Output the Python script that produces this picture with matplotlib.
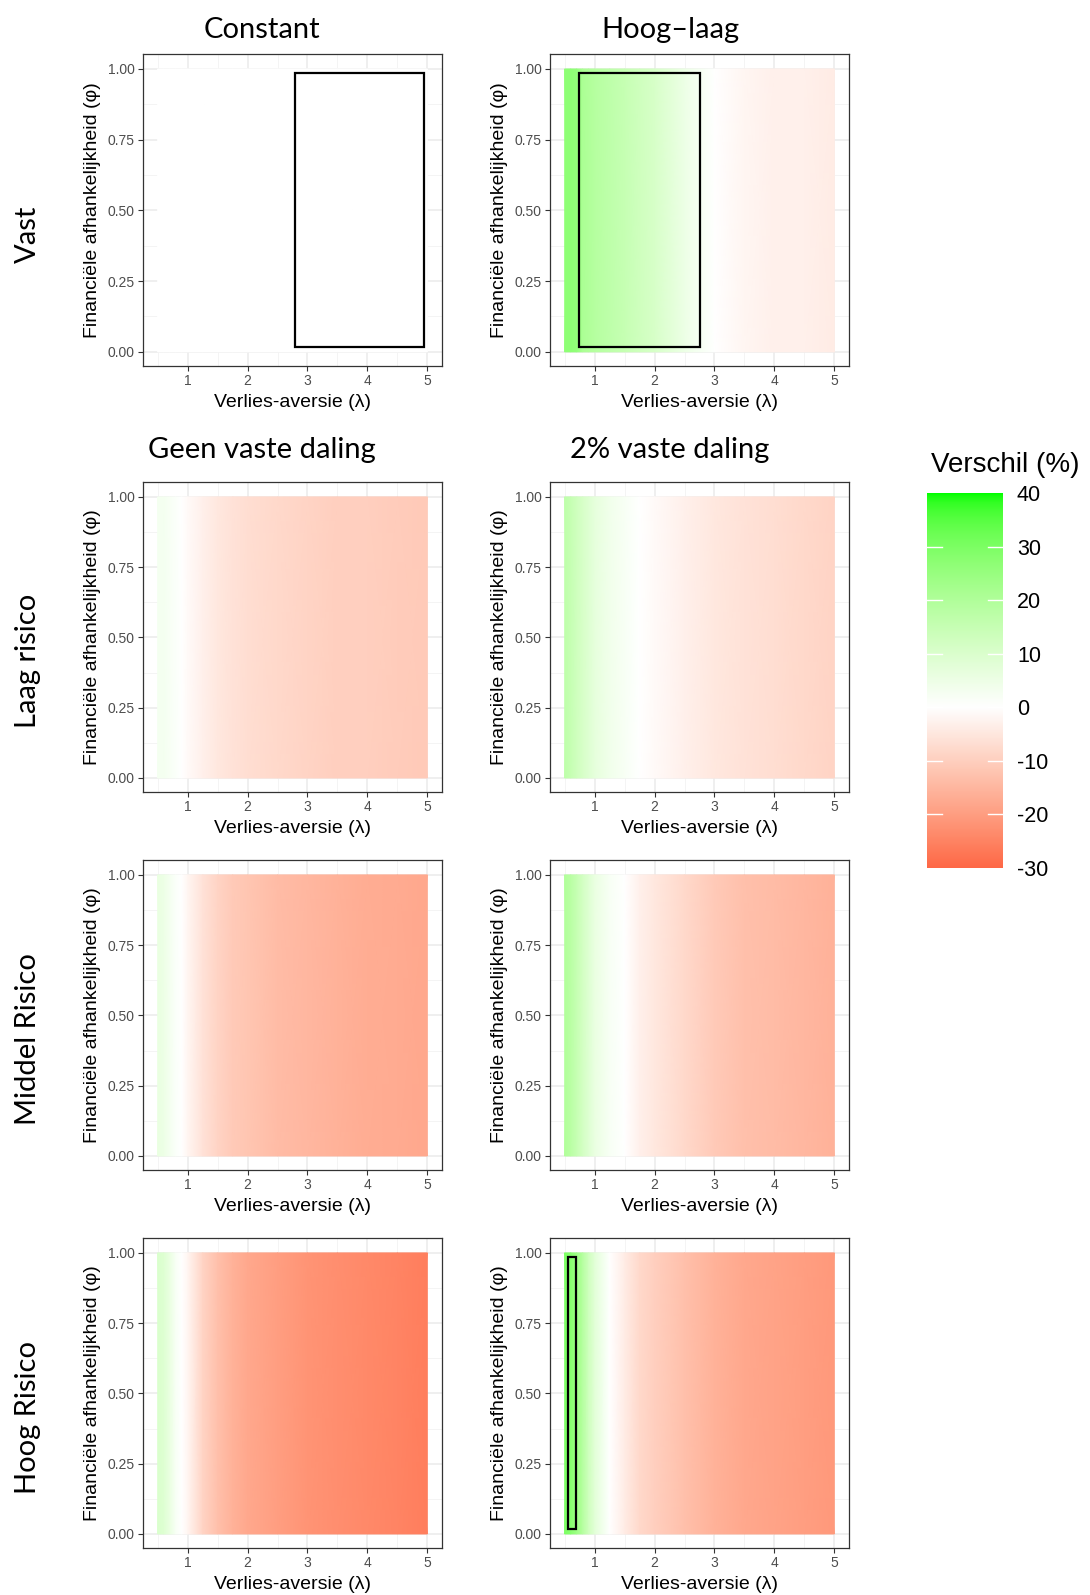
import numpy as np
import matplotlib
matplotlib.use("Agg")
import matplotlib.pyplot as plt
from matplotlib.colors import ListedColormap, Normalize
from matplotlib.patches import Rectangle

# ---------------- data ----------------
lambdas = [0.5, 0.6, 0.7, 0.8, 0.9, 1.0, 1.25, 1.5, 1.75, 2.0, 2.5, 3.0, 3.5, 4.0, 4.5, 5.0]
phis = [0.0, 1.0]

row_labels = ["Vast", "Laag risico", "Middel Risico", "Hoog Risico"]
col_titles_top = ["Constant", "Hoog–laag"]
col_titles_rest = ["Geen vaste daling", "2% vaste daling"]

vast_constant = [0, 0, 0, 0, 0, 0, 0, 0, 0, 0, 0, 0, 0, 0, 0, 0]
vast_hooglaag = [27, 27, 26, 21, 20, 19, 17, 15, 13, 11, 5, 0, -2, -3, -3, -4]
laag_geen = [3, 3, 2, 1, 0, -1, -3, -5, -6, -7, -8, -9, -10, -10, -10.5, -11]
laag_2pct = [17, 15, 13, 11, 9, 7, 4, 2, 0, -1, -3, -5, -6, -7, -8, -9]
middel_geen = [6, 5, 3, 1, 0, -2, -6, -9, -11, -12, -14, -15, -16, -17, -17.5, -18]
middel_2pct = [20, 18, 15, 12, 9, 6, 2, 0, -3, -5, -8, -11, -13, -14, -15, -16]
hoog_geen = [10, 9, 6, 2, 0, -2, -9, -13, -16, -18, -20, -22, -23, -24, -25, -26]
hoog_2pct = [30, 28, 24, 19, 13, 8, 0, -4, -8, -10, -13, -16, -18, -19, -20, -21]

panel_values = [
    [vast_constant, vast_hooglaag],
    [laag_geen, laag_2pct],
    [middel_geen, middel_2pct],
    [hoog_geen, hoog_2pct],
]

# highlighted boxes: (row, col, lambda_min, lambda_max, phi_min, phi_max)
boxes = [
    (0, 0, 2.79, 4.94, 0.016, 0.985),
    (0, 1, 0.733, 2.75, 0.016, 0.985),
    (3, 1, 0.55, 0.69, 0.016, 0.985),
]

x_ticks = [1, 2, 3, 4, 5]
y_ticks = [0.0, 0.25, 0.5, 0.75, 1.0]
y_ticklabels = ["0.00", "0.25", "0.50", "0.75", "1.00"]
cbar_ticks = [40, 30, 20, 10, 0, -10, -20, -30]

# ---------------- colour scale (Lab interpolation like ggplot gradient2) ----------------
def _srgb_to_lab(c):
    c = np.asarray(c, float)
    lin = np.where(c <= 0.04045, c / 12.92, ((c + 0.055) / 1.055) ** 2.4)
    M = np.array([[0.4124, 0.3576, 0.1805], [0.2126, 0.7152, 0.0722], [0.0193, 0.1192, 0.9505]])
    xyz = M @ lin
    xyz = xyz / np.array([0.95047, 1.0, 1.08883])
    f = np.where(xyz > 0.008856, np.cbrt(xyz), 7.787 * xyz + 16 / 116)
    return np.array([116 * f[1] - 16, 500 * (f[0] - f[1]), 200 * (f[1] - f[2])])

def _lab_to_srgb(lab):
    L, a, b = lab
    fy = (L + 16) / 116
    fx = fy + a / 500
    fz = fy - b / 200
    f = np.array([fx, fy, fz])
    xyz = np.where(f ** 3 > 0.008856, f ** 3, (f - 16 / 116) / 7.787)
    xyz = xyz * np.array([0.95047, 1.0, 1.08883])
    Minv = np.array([[3.2406, -1.5372, -0.4986], [-0.9689, 1.8758, 0.0415], [0.0557, -0.2040, 1.0570]])
    lin = Minv @ xyz
    lin = np.clip(lin, 0, 1)
    c = np.where(lin <= 0.0031308, 12.92 * lin, 1.055 * lin ** (1 / 2.4) - 0.055)
    return np.clip(c, 0, 1)

low = _srgb_to_lab([1.0, 0.0, 0.0])
mid = _srgb_to_lab([1.0, 1.0, 1.0])
high = _srgb_to_lab([0.0, 1.0, 0.0])
cols = []
for t in np.linspace(0, 1, 512):
    if t <= 0.5:
        u = t / 0.5
        lab = low + (mid - low) * u
    else:
        u = (t - 0.5) / 0.5
        lab = mid + (high - mid) * u
    cols.append(_lab_to_srgb(lab))
cmap = ListedColormap(np.array(cols))
norm = Normalize(vmin=-40, vmax=40)

# ---------------- figure ----------------
W, H = 1090, 1595
fig = plt.figure(figsize=(W / 100, H / 100), dpi=100)
fig.patch.set_facecolor("white")

def px_axes(l, t, r, b):
    return fig.add_axes([l / W, 1 - b / H, (r - l) / W, (b - t) / H])

col_lr = [(143, 442), (550, 849)]
row_tb = [(54, 366), (482, 792), (860, 1170), (1238, 1548)]

TITLE_FONT = ["Lato", "DejaVu Sans"]
AX_FONT = ["Liberation Sans", "DejaVu Sans"]

for r in range(4):
    for c in range(2):
        l, rr = col_lr[c]
        t, b = row_tb[r]
        ax = px_axes(l, t, rr, b)
        ax.set_facecolor("white")
        vals = np.array(panel_values[r][c], float)
        X, Y = np.meshgrid(lambdas, phis)
        C = np.vstack([vals for _ in phis])
        ax.pcolormesh(X, Y, C, cmap=cmap, norm=norm, shading="gouraud", zorder=2)
        ax.set_xlim(0.255, 5.245)
        ax.set_ylim(-0.05, 1.053)
        ax.set_xticks(x_ticks)
        ax.set_xticks([0.5, 1.5, 2.5, 3.5, 4.5], minor=True)
        ax.set_yticks(y_ticks)
        ax.set_yticks([0.125, 0.375, 0.625, 0.875], minor=True)
        ax.set_yticklabels(y_ticklabels)
        ax.grid(which="major", color="#EBEBEB", lw=1.1, zorder=0)
        ax.grid(which="minor", color="#F2F2F2", lw=0.6, zorder=0)
        ax.set_axisbelow(True)
        ax.tick_params(which="major", direction="out", length=3.5, width=0.8, color="#333333",
                       labelsize=10, labelcolor="#4D4D4D", pad=2.5)
        ax.tick_params(which="minor", length=0)
        for lab in ax.get_xticklabels() + ax.get_yticklabels():
            lab.set_family(AX_FONT)
        for s in ax.spines.values():
            s.set_color("#333333")
            s.set_linewidth(0.9)
            s.set_zorder(5)
        ax.set_xlabel("Verlies-aversie (λ)", fontsize=14, family=AX_FONT, labelpad=4)
        ax.set_ylabel("Financiële afhankelijkheid (φ)", fontsize=14, family=AX_FONT, labelpad=5)
        for (br, bc, x0, x1, y0, y1) in boxes:
            if br == r and bc == c:
                ax.add_patch(Rectangle((x0, y0), x1 - x0, y1 - y0, fill=False,
                                       ec="black", lw=1.6, zorder=4))

# column titles
for c, xc in enumerate([262, 670]):
    fig.text(xc / W, 1 - 30 / H, col_titles_top[c], ha="center", va="center",
             fontsize=21, family=TITLE_FONT)
    fig.text(xc / W, 1 - 450 / H, col_titles_rest[c], ha="center", va="center",
             fontsize=21, family=TITLE_FONT)

# row labels
for r, (t, b) in enumerate(row_tb):
    yc = (t + b) / 2 + 24
    fig.text(28 / W, 1 - yc / H, row_labels[r], ha="center", va="center",
             rotation=90, fontsize=21, family=TITLE_FONT)

# colour bar
cax = px_axes(927, 493, 1003, 868)
grad = np.linspace(-30, 40, 400).reshape(-1, 1)
cax.imshow(grad, cmap=cmap, norm=norm, origin="lower", aspect="auto",
           extent=[0, 1, -30, 40])
cax.set_xlim(0, 1)
cax.set_ylim(-30, 40)
for v in cbar_ticks:
    if -30 < v < 40:
        cax.plot([0, 0.2], [v, v], color="white", lw=1.0)
        cax.plot([0.8, 1], [v, v], color="white", lw=1.0)
for s in cax.spines.values():
    s.set_visible(False)
cax.set_xticks([])
cax.yaxis.tick_right()
cax.set_yticks(cbar_ticks)
cax.set_yticklabels([str(v) for v in cbar_ticks])
cax.tick_params(axis="y", length=0, pad=10, labelsize=15.5, labelcolor="black")
for lab in cax.get_yticklabels():
    lab.set_family(AX_FONT)
fig.text(1005 / W, 1 - 465 / H, "Verschil (%)", ha="center", va="center",
         fontsize=20, family=AX_FONT)

fig.savefig("out.png", dpi=100, facecolor="white")
